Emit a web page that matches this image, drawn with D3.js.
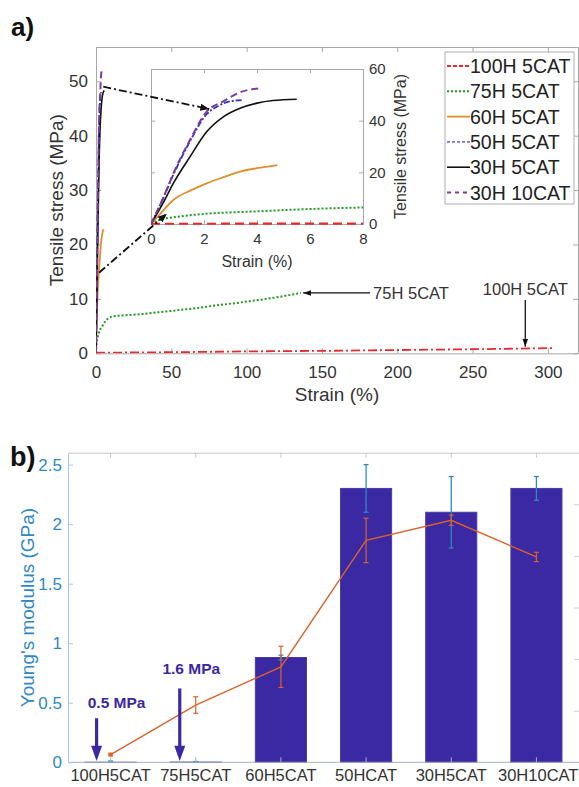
<!DOCTYPE html>
<html><head><meta charset="utf-8">
<script src="https://cdn.jsdelivr.net/npm/d3@7/dist/d3.min.js"></script>
<style>body{margin:0;background:#fff}svg{display:block;font-family:"Liberation Sans",Arial,Helvetica,sans-serif}</style>
</head><body><svg id="c" width="579" height="787"></svg>
<script>
// ---------- data (panel a) ----------
const seriesNames = ["100H 5CAT","75H 5CAT","60H 5CAT","50H 5CAT","30H 5CAT","30H 10CAT"];
const strain100H = [0, 8, 50, 100, 150, 200, 250, 303];
const stress100H = [0.1, 0.12, 0.2, 0.35, 0.45, 0.6, 0.75, 0.95];
const strain75H = [0, 0.3, 1, 2, 4, 6, 8, 10, 15, 20, 30, 40, 60, 80, 100, 120, 136];
const stress75H = [0, 1.5, 2.8, 3.9, 4.9, 5.8, 6.4, 6.7, 6.9, 7.0, 7.2, 7.5, 8.1, 8.8, 9.5, 10.3, 11.1];
const strain60H = [0, 0.4, 0.84, 1.5, 2.1, 2.7, 3.36, 4, 4.77];
const stress60H = [0, 4.5, 9.3, 13, 15.7, 18, 20.3, 21.6, 22.8];
const strain50H = [0, 0.5, 0.84, 1.47, 2.1, 2.5, 3, 3.48];
const stress50H = [0, 11, 19, 32, 42.5, 45.5, 47.5, 48];
const strain30H = [0, 0.5, 0.84, 1.47, 2.1, 2.73, 3.36, 4, 4.6, 5.5];
const stress30H = [0, 9, 15.7, 26, 35.7, 41.5, 44.8, 46.8, 47.8, 48.3];
const strain30H10 = [0, 0.5, 0.84, 1.47, 2.1, 2.73, 3.36, 4.1];
const stress30H10 = [0, 11, 19.5, 32.5, 43.5, 47.5, 51, 52.5];
const mainXTicks = [0, 50, 100, 150, 200, 250, 300];
const mainYTicks = [0, 10, 20, 30, 40, 50];
const insetXTicks = [0, 2, 4, 6, 8];
const insetYTicks = [0, 20, 40, 60];

// ---------- data (panel b) ----------
const categories = ["100H5CAT","75H5CAT","60H5CAT","50HCAT","30H5CAT","30H10CAT"];
const modulusGPa = [0.0005, 0.0016, 0.88, 2.30, 2.10, 2.30];
const modulusErr = [0.01, 0.005, 0.02, 0.2, 0.3, 0.1];
const strengthMPa = [1.5, 11.1, 18.5, 43.0, 46.9, 39.8];
const strengthErr = [0.2, 1.6, 4.0, 4.3, 1.0, 0.9];
const modulusTicks = [0, 0.5, 1, 1.5, 2, 2.5];
const strengthTicks = [10, 20, 30, 40, 50];
const lowLabels = ["0.5 MPa", "1.6 MPa"];

// ---------- styles ----------
const styles = [
  {color:"#e8282c", dash:"9,3,2,3", idash:"9,5", ldash:"4,2", w:1.8},
  {color:"#1e9a1e", dash:"2,2", idash:"2,2", ldash:"2,2", w:2},
  {color:"#e0902a", dash:null, idash:null, ldash:null, w:1.8},
  {color:"#3232c8", dash:"6,2,2,2", idash:"6,2,2,2", ldash:"3,2", w:1.8},
  {color:"#111111", dash:null, idash:null, ldash:null, w:1.6},
  {color:"#7e3a96", dash:"7,4", idash:"7,4", ldash:"4,4", w:2}
];
const seriesData = [
  [strain100H, stress100H],[strain75H, stress75H],[strain60H, stress60H],
  [strain50H, stress50H],[strain30H, stress30H],[strain30H10, stress30H10]
].map(([x,y]) => x.map((v,i)=>({x:v, y:y[i]})));

const svg = d3.select("#c");
const txt = "#333";
const axisGray = "#a8a8a8";

function styleAxis(g, color, labelColor, fs) {
  g.select(".domain").attr("stroke", color);
  g.selectAll(".tick line").attr("stroke", color);
  g.selectAll(".tick text").attr("fill", labelColor).attr("font-size", fs);
  g.attr("font-family", null);
}

// ================= Panel a =================
const xA = d3.scaleLinear().domain([0, 320]).range([96, 578]);
const yA = d3.scaleLinear().domain([0, 56.3]).range([353.3, 47]);

svg.append("text").attr("x", 11).attr("y", 36).attr("font-size", 26).attr("font-weight", "bold").attr("fill", "#111").text("a)");

const defs = svg.append("defs");
defs.append("clipPath").attr("id", "clipA").append("rect")
  .attr("x", xA(0)).attr("y", yA(56.3)).attr("width", xA(320) - xA(0)).attr("height", yA(0) - yA(56.3));

const aAx = svg.append("g");
aAx.append("g").attr("transform", `translate(0,${yA(0)})`)
  .call(d3.axisBottom(xA).tickValues(mainXTicks).tickSizeInner(-5).tickSizeOuter(0).tickPadding(13))
  .call(g => styleAxis(g, axisGray, txt, 17));
aAx.append("g").attr("transform", `translate(${xA(0)},0)`)
  .call(d3.axisLeft(yA).tickValues(mainYTicks).tickSizeInner(-5).tickSizeOuter(0).tickPadding(8))
  .call(g => styleAxis(g, axisGray, txt, 17));
aAx.append("g").attr("transform", `translate(0,${yA(56.3)})`)
  .call(d3.axisTop(xA).tickValues(mainXTicks).tickSizeInner(-5).tickSizeOuter(0).tickFormat(""))
  .call(g => styleAxis(g, axisGray, txt, 17));
aAx.append("g").attr("transform", `translate(${xA(320)},0)`)
  .call(d3.axisRight(yA).tickValues(mainYTicks).tickSizeInner(-5).tickSizeOuter(0).tickFormat(""))
  .call(g => styleAxis(g, axisGray, txt, 17));

svg.append("text").attr("x", (xA(0)+xA(320))/2).attr("y", 401).attr("text-anchor","middle")
  .attr("font-size", 19).attr("fill", txt).text("Strain (%)");
svg.append("text").attr("transform", `translate(63,${(yA(0)+yA(56.3))/2}) rotate(-90)`).attr("text-anchor","middle")
  .attr("font-size", 19).attr("fill", txt).text("Tensile stress (MPa)");

const lineA = d3.line().x(d => xA(d.x)).y(d => yA(d.y)).curve(d3.curveMonotoneX);
const gA = svg.append("g").attr("clip-path", "url(#clipA)");
seriesData.forEach((d, i) => {
  gA.append("path").attr("d", lineA(d)).attr("fill", "none")
    .attr("stroke", styles[i].color).attr("stroke-width", styles[i].w)
    .attr("stroke-dasharray", styles[i].dash);
});

// annotations in panel a
defs.append("marker").attr("id","ahead").attr("viewBox","0 0 10 10").attr("refX",10).attr("refY",5)
  .attr("markerWidth",9).attr("markerHeight",9).attr("markerUnits","userSpaceOnUse").attr("orient","auto")
  .append("path").attr("d","M0,1 L10,5 L0,9 Z").attr("fill","#111");
defs.append("marker").attr("id","ahead2").attr("viewBox","0 0 10 10").attr("refX",10).attr("refY",5)
  .attr("markerWidth",8).attr("markerHeight",8).attr("markerUnits","userSpaceOnUse").attr("orient","auto")
  .append("path").attr("d","M0,1.5 L10,5 L0,8.5 Z").attr("fill","#111");

svg.append("line").attr("x1", xA(137.5)+67).attr("y1", yA(11.1)).attr("x2", xA(137.5)).attr("y2", yA(11.1))
  .attr("stroke","#111").attr("stroke-width",1.3).attr("marker-end","url(#ahead2)");
svg.append("text").attr("x", xA(137.5)+70).attr("y", yA(11.1)+6).attr("font-size",16.5).attr("fill",txt).text("75H 5CAT");
svg.append("line").attr("x1", xA(285)).attr("y1", yA(9.8)).attr("x2", xA(285)).attr("y2", yA(1.2))
  .attr("stroke","#111").attr("stroke-width",1.3).attr("marker-end","url(#ahead2)");
svg.append("text").attr("x", xA(285)).attr("y", yA(9.8)-5).attr("text-anchor","middle").attr("font-size",16.5).attr("fill",txt).text("100H 5CAT");

// ================= Inset =================
const xI = d3.scaleLinear().domain([0, 8]).range([151, 363]);
const yI = d3.scaleLinear().domain([0, 60]).range([224, 69]);
defs.append("clipPath").attr("id", "clipI").append("rect")
  .attr("x", xI(0)).attr("y", yI(60)).attr("width", xI(8) - xI(0)).attr("height", yI(0) - yI(60) + 2);

svg.append("rect").attr("x", xI(0)).attr("y", yI(60)).attr("width", xI(8)-xI(0)).attr("height", yI(0)-yI(60)).attr("fill","#fff");
const iAx = svg.append("g");
iAx.append("g").attr("transform", `translate(0,${yI(0)})`)
  .call(d3.axisBottom(xI).tickValues(insetXTicks).tickSizeInner(-4).tickSizeOuter(0).tickPadding(9))
  .call(g => styleAxis(g, axisGray, txt, 15));
iAx.append("g").attr("transform", `translate(0,${yI(60)})`)
  .call(d3.axisTop(xI).tickValues(insetXTicks).tickSizeInner(-4).tickSizeOuter(0).tickFormat(""))
  .call(g => styleAxis(g, axisGray, txt, 15));
iAx.append("g").attr("transform", `translate(${xI(0)},0)`)
  .call(d3.axisLeft(yI).tickValues(insetYTicks).tickSizeInner(-4).tickSizeOuter(0).tickFormat(""))
  .call(g => styleAxis(g, axisGray, txt, 15));
iAx.append("g").attr("transform", `translate(${xI(8)},0)`)
  .call(d3.axisRight(yI).tickValues(insetYTicks).tickSizeInner(-4).tickSizeOuter(0).tickPadding(6))
  .call(g => styleAxis(g, axisGray, txt, 15));
svg.append("text").attr("x", (xI(0)+xI(8))/2).attr("y", 267).attr("text-anchor","middle")
  .attr("font-size", 16).attr("fill", txt).text("Strain (%)");
svg.append("text").attr("transform", `translate(406,${(yI(0)+yI(60))/2}) rotate(-90)`).attr("text-anchor","middle")
  .attr("font-size", 16).attr("fill", txt).text("Tensile stress (MPa)");

const lineI = d3.line().x(d => xI(d.x)).y(d => yI(d.y)).curve(d3.curveMonotoneX);
const gI = svg.append("g").attr("clip-path", "url(#clipI)");
seriesData.forEach((d, i) => {
  gI.append("path").attr("d", lineI(d)).attr("fill", "none")
    .attr("stroke", styles[i].color).attr("stroke-width", styles[i].w + (i===0?0.4:0))
    .attr("stroke-dasharray", styles[i].idash);
});

// zoom arrows (main -> inset)
svg.append("line").attr("x1", xA(4.8)).attr("y1", yA(49)).attr("x2", xI(2.2)).attr("y2", yI(44.5))
  .attr("stroke","#111").attr("stroke-width",1.8).attr("stroke-dasharray","8,3,2,3").attr("marker-end","url(#ahead)");
svg.append("line").attr("x1", xA(2)).attr("y1", yA(14.8)).attr("x2", xI(0.6)).attr("y2", yI(4))
  .attr("stroke","#111").attr("stroke-width",1.8).attr("stroke-dasharray","8,3,2,3").attr("marker-end","url(#ahead)");

// legend
const lg = svg.append("g");
lg.append("rect").attr("x", 445).attr("y", 52).attr("width", 129).attr("height", 152)
  .attr("fill","#fff").attr("stroke","#b0b0b0").attr("stroke-width",1);
seriesNames.forEach((n, i) => {
  const y = 66 + i * 25.3;
  lg.append("line").attr("x1", 447).attr("x2", 470).attr("y1", y).attr("y2", y)
    .attr("stroke", i===3 ? "#7a72d0" : styles[i].color).attr("stroke-width", styles[i].w)
    .attr("stroke-dasharray", styles[i].ldash);
  lg.append("text").attr("x", 470).attr("y", y + 7).attr("font-size", 19.5).attr("fill", "#222").text(n);
});

// ================= Panel b =================
const xB = d3.scaleBand().domain(categories).range([68, 579]).paddingInner(0.4).paddingOuter(0.2);
const yB = d3.scaleLinear().domain([0, 2.6]).range([762.3, 452.7]);
const yR = d3.scaleLinear().domain([0, 60]).range([762.3, 452.7]);
const blue = "#2f88c5";
const barColor = "#3b28a3";
const orange = "#d9622b";

svg.append("text").attr("x", 10).attr("y", 466).attr("font-size", 27).attr("font-weight", "bold").attr("fill", "#111").text("b)");

const bAx = svg.append("g");
bAx.append("g").attr("transform", `translate(0,${yB(2.6)})`)
  .call(d3.axisTop(xB).tickSizeInner(-5).tickSizeOuter(0).tickFormat(""))
  .call(g => styleAxis(g, "#c8c8c8", txt, 17));
bAx.append("g").attr("transform", `translate(579,0)`)
  .call(d3.axisLeft(yR).tickValues(strengthTicks).tickSizeInner(5).tickSizeOuter(0).tickFormat(""))
  .call(g => styleAxis(g, "#d0d0d0", txt, 17));

// bars
svg.append("g").selectAll("rect").data(categories).join("rect")
  .attr("x", d => xB(d)).attr("width", xB.bandwidth())
  .attr("y", (d,i) => yB(modulusGPa[i])).attr("height", (d,i) => yB(0) - yB(modulusGPa[i]))
  .attr("fill", barColor).attr("stroke", "#4a3aa8").attr("stroke-width", 1);

// blue error bars
const cx = d => xB(d) + xB.bandwidth()/2;
const eb = svg.append("g").attr("stroke", blue).attr("stroke-width", 1.3);
categories.forEach((c, i) => {
  const lo = Math.max(0, modulusGPa[i] - modulusErr[i]), hi = modulusGPa[i] + modulusErr[i];
  eb.append("line").attr("x1", cx(c)).attr("x2", cx(c)).attr("y1", yB(lo)).attr("y2", yB(hi));
  eb.append("line").attr("x1", cx(c)-2.5).attr("x2", cx(c)+2.5).attr("y1", yB(hi)).attr("y2", yB(hi));
  eb.append("line").attr("x1", cx(c)-2.5).attr("x2", cx(c)+2.5).attr("y1", yB(lo)).attr("y2", yB(lo));
});

// axes drawn over bars
bAx.raise();
const bottomAxis = svg.append("g").attr("transform", `translate(0,${yB(0)})`)
  .call(d3.axisBottom(xB).tickSizeInner(-5).tickSizeOuter(0).tickPadding(7))
  .call(g => styleAxis(g, "#9fb3c4", txt, 16.5));
bottomAxis.select(".domain").attr("d", "M68,0H579");
bottomAxis.selectAll(".tick text").filter(d => d === categories[categories.length-1]).attr("text-anchor", "end").attr("x", 42);
svg.append("g").attr("transform", `translate(68,0)`)
  .call(d3.axisLeft(yB).tickValues(modulusTicks).tickSizeInner(-5).tickSizeOuter(0).tickPadding(6).tickFormat(d3.format("")))
  .call(g => styleAxis(g, "#a9c9e2", blue, 17));

// orange strength line with error bars
const lineB = d3.line().x((d,i) => cx(categories[i])).y(d => yR(d));
svg.append("path").attr("d", lineB(strengthMPa)).attr("fill","none").attr("stroke", orange).attr("stroke-width", 1.4);
const ob = svg.append("g").attr("stroke", orange).attr("stroke-width", 1.2);
categories.forEach((c, i) => {
  const lo = strengthMPa[i] - strengthErr[i], hi = strengthMPa[i] + strengthErr[i];
  ob.append("line").attr("x1", cx(c)).attr("x2", cx(c)).attr("y1", yR(lo)).attr("y2", yR(hi));
  ob.append("line").attr("x1", cx(c)-2.5).attr("x2", cx(c)+2.5).attr("y1", yR(hi)).attr("y2", yR(hi));
  ob.append("line").attr("x1", cx(c)-2.5).attr("x2", cx(c)+2.5).attr("y1", yR(lo)).attr("y2", yR(lo));
});
svg.append("rect").attr("x", cx(categories[0])-2).attr("y", yR(strengthMPa[0])-2).attr("width",4).attr("height",4).attr("fill",orange);

// low-modulus arrows and labels
const arrowTop = [0.37, 0.62];
const labelY = [0.5, 0.79];
const arrowDx = [-14, -16];
const labelDx = [6, -4.5];
lowLabels.forEach((t, i) => {
  const x = cx(categories[i]) + arrowDx[i];
  svg.append("line").attr("x1", x).attr("x2", x).attr("y1", yB(arrowTop[i])).attr("y2", yB(0.12))
    .attr("stroke", barColor).attr("stroke-width", 3.2);
  svg.append("path").attr("d", `M${x-5.5},${yB(0.14)} L${x+5.5},${yB(0.14)} L${x},${yB(0.01)} Z`).attr("fill", barColor);
  svg.append("text").attr("x", cx(categories[i]) + labelDx[i]).attr("y", yB(labelY[i]) + 5.5)
    .attr("text-anchor","middle").attr("font-size", 15.5).attr("font-weight","bold").attr("fill", barColor).text(t);
});

svg.append("text").attr("transform", `translate(34,${(yB(0)+yB(2.6))/2}) rotate(-90)`).attr("text-anchor","middle")
  .attr("font-size", 19).attr("fill", blue).text("Young's modulus (GPa)");
</script></body></html>
